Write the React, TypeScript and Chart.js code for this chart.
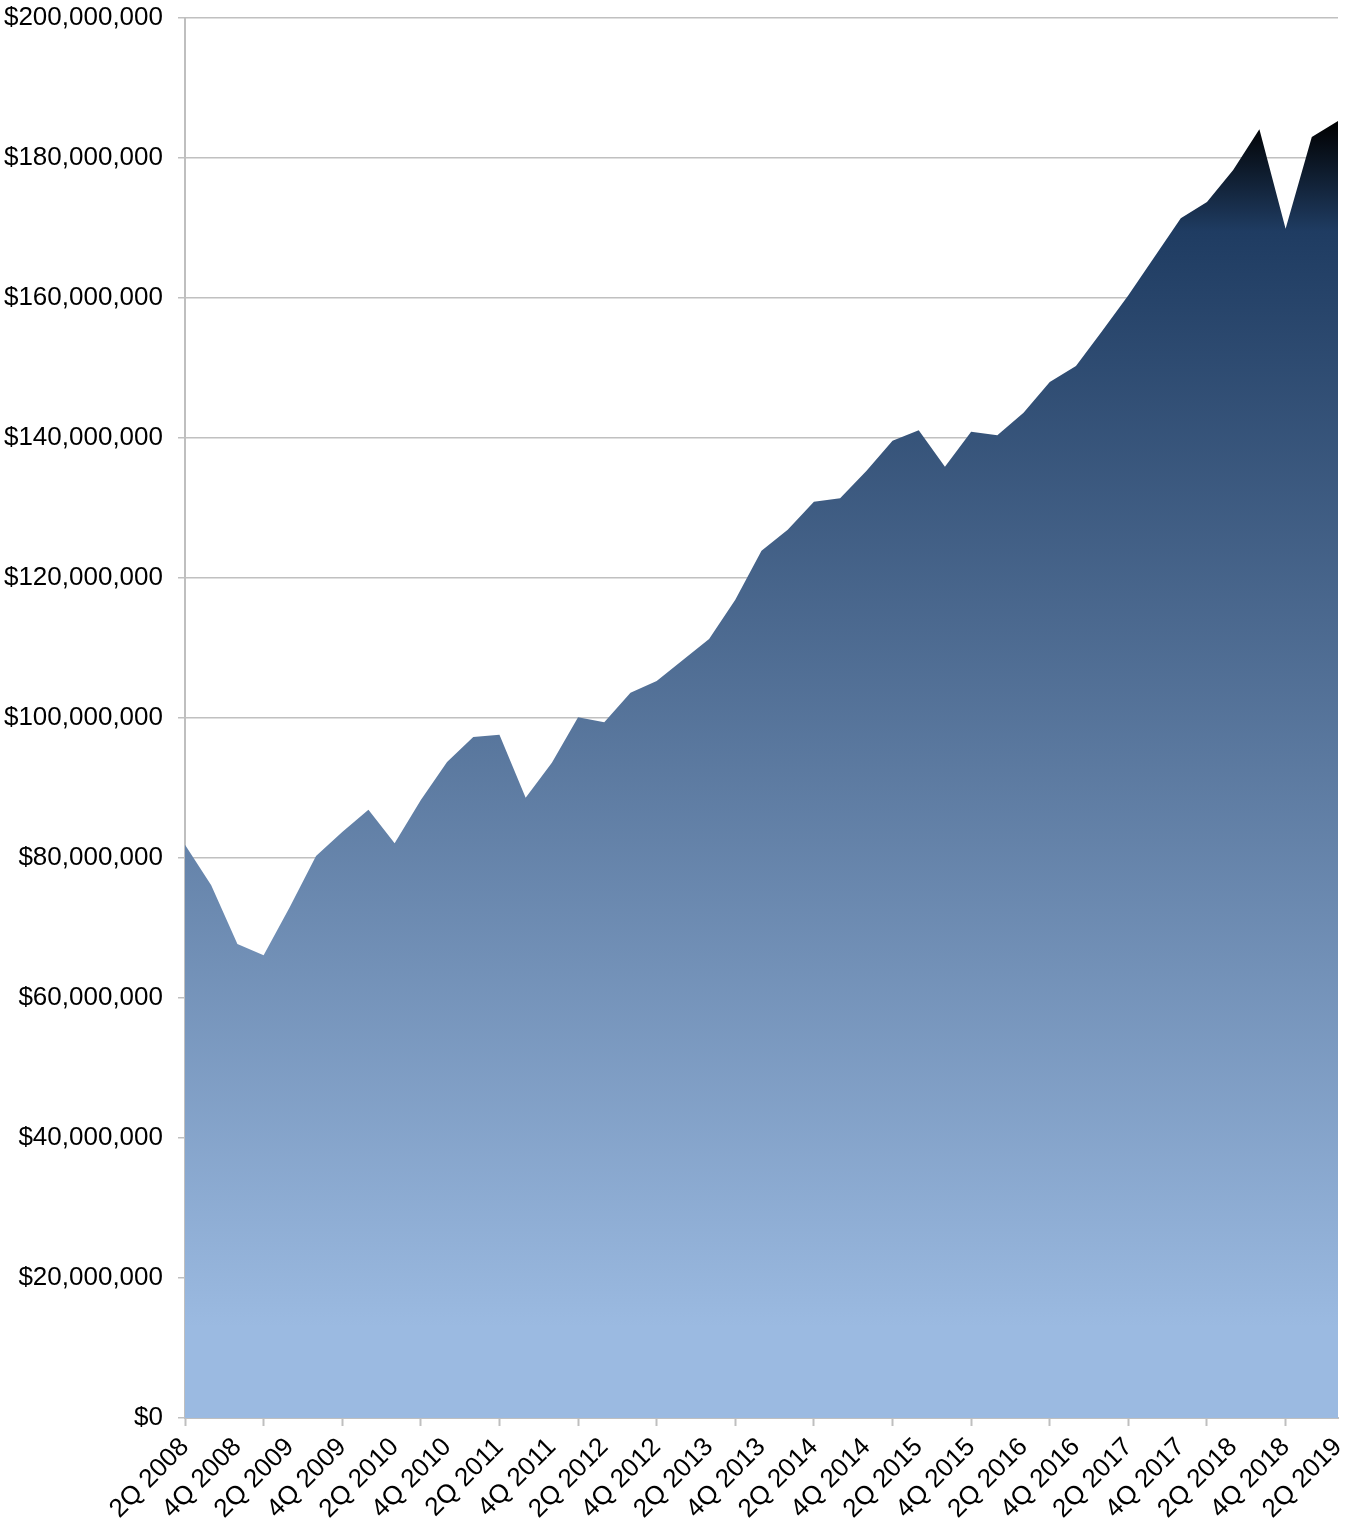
import React, { useEffect, useRef } from 'react';
import { Chart, registerables } from 'chart.js';

Chart.register(...registerables);

const quarters = [
  '2Q 2008', '3Q 2008', '4Q 2008',
  '1Q 2009', '2Q 2009', '3Q 2009', '4Q 2009',
  '1Q 2010', '2Q 2010', '3Q 2010', '4Q 2010',
  '1Q 2011', '2Q 2011', '3Q 2011', '4Q 2011',
  '1Q 2012', '2Q 2012', '3Q 2012', '4Q 2012',
  '1Q 2013', '2Q 2013', '3Q 2013', '4Q 2013',
  '1Q 2014', '2Q 2014', '3Q 2014', '4Q 2014',
  '1Q 2015', '2Q 2015', '3Q 2015', '4Q 2015',
  '1Q 2016', '2Q 2016', '3Q 2016', '4Q 2016',
  '1Q 2017', '2Q 2017', '3Q 2017', '4Q 2017',
  '1Q 2018', '2Q 2018', '3Q 2018', '4Q 2018',
  '1Q 2019', '2Q 2019',
];

// values in millions of dollars
const valuesMillions = [
  81.9, 76.1, 67.7,
  66.1, 73.0, 80.3, 83.7,
  86.9, 82.1, 88.3, 93.7,
  97.3, 97.6, 88.6, 93.6,
  100.1, 99.4, 103.6, 105.3,
  108.3, 111.3, 116.9, 123.9,
  126.9, 130.9, 131.4, 135.3,
  139.6, 141.1, 135.9, 140.9,
  140.4, 143.6, 148.0, 150.3,
  155.3, 160.4, 165.9, 171.4,
  173.7, 178.3, 184.1, 169.9,
  183.0, 185.3,
];

const yMin = 0;
const yMax = 200000000;
const yStep = 20000000;

const FONT = '"Liberation Sans", Arial, sans-serif';

export default function App() {
  const canvasRef = useRef<HTMLCanvasElement | null>(null);

  useEffect(() => {
    const canvas = canvasRef.current;
    if (!canvas) return;
    const data = valuesMillions.map((v) => v * 1000000);
    const maxVal = Math.max(...data);

    const chart = new Chart(canvas, {
      type: 'line',
      data: {
        labels: quarters,
        datasets: [
          {
            data,
            fill: 'origin',
            borderWidth: 0,
            borderColor: 'rgba(0,0,0,0)',
            pointRadius: 0,
            pointHoverRadius: 0,
            tension: 0,
            backgroundColor: (ctx: any) => {
              const ch = ctx.chart;
              const area = ch.chartArea;
              if (!area) return '#6f8fb8';
              const yScale = ch.scales.y;
              const top = yScale.getPixelForValue(maxVal);
              const bottom = area.bottom;
              const g = ch.ctx.createLinearGradient(0, top, 0, bottom);
              g.addColorStop(0, '#000000');
              g.addColorStop(0.085, '#1f3c62');
              g.addColorStop(0.93, '#9bbae1');
              g.addColorStop(1, '#9bbae1');
              return g;
            },
          },
        ],
      },
      options: {
        responsive: false,
        animation: false,
        devicePixelRatio: 1,
        layout: { padding: { top: 18, right: 19, left: 0, bottom: 0 } },
        plugins: {
          legend: { display: false },
          tooltip: { enabled: false },
        },
        scales: {
          x: {
            type: 'category',
            offset: false,
            afterFit: (scale: any) => {
              scale.height = 107;
              scale.paddingLeft = 0;
              scale.paddingRight = 0;
              scale.paddingTop = 0;
              scale.paddingBottom = 0;
            },
            grid: {
              display: true,
              drawOnChartArea: false,
              drawTicks: true,
              tickLength: 8,
              tickWidth: 2,
              tickColor: (ctx: any) => (ctx.index % 3 === 0 ? '#bfbfbf' : 'rgba(0,0,0,0)'),
            },
            border: { display: true, color: '#bfbfbf', width: 2 },
            ticks: {
              autoSkip: false,
              maxRotation: 45,
              minRotation: 45,
              padding: 6,
              color: '#000000',
              font: { family: FONT, size: 26 },
              callback: (_v: any, index: number) => (index % 2 === 0 ? quarters[index] : ''),
            },
          },
          y: {
            min: yMin,
            max: yMax,
            afterFit: (scale: any) => {
              scale.width = 185;
              scale.paddingLeft = 0;
              scale.paddingRight = 0;
              scale.paddingTop = 0;
              scale.paddingBottom = 0;
            },
            grid: {
              color: '#c0c0c0',
              lineWidth: 1.5,
              tickLength: 7,
              drawTicks: true,
            },
            border: { display: true, color: '#bfbfbf', width: 2 },
            ticks: {
              stepSize: yStep,
              padding: 15,
              color: '#000000',
              font: { family: FONT, size: 26 },
              callback: (v: any) => '$' + Number(v).toLocaleString('en-US'),
            },
          },
        },
      },
    });

    return () => {
      chart.destroy();
    };
  }, []);

  return (
    <div style={{ position: 'absolute', left: 0, top: 0, width: 1357, height: 1525, background: '#ffffff' }}>
      <canvas ref={canvasRef} width={1357} height={1525} style={{ display: 'block' }} />
    </div>
  );
}
